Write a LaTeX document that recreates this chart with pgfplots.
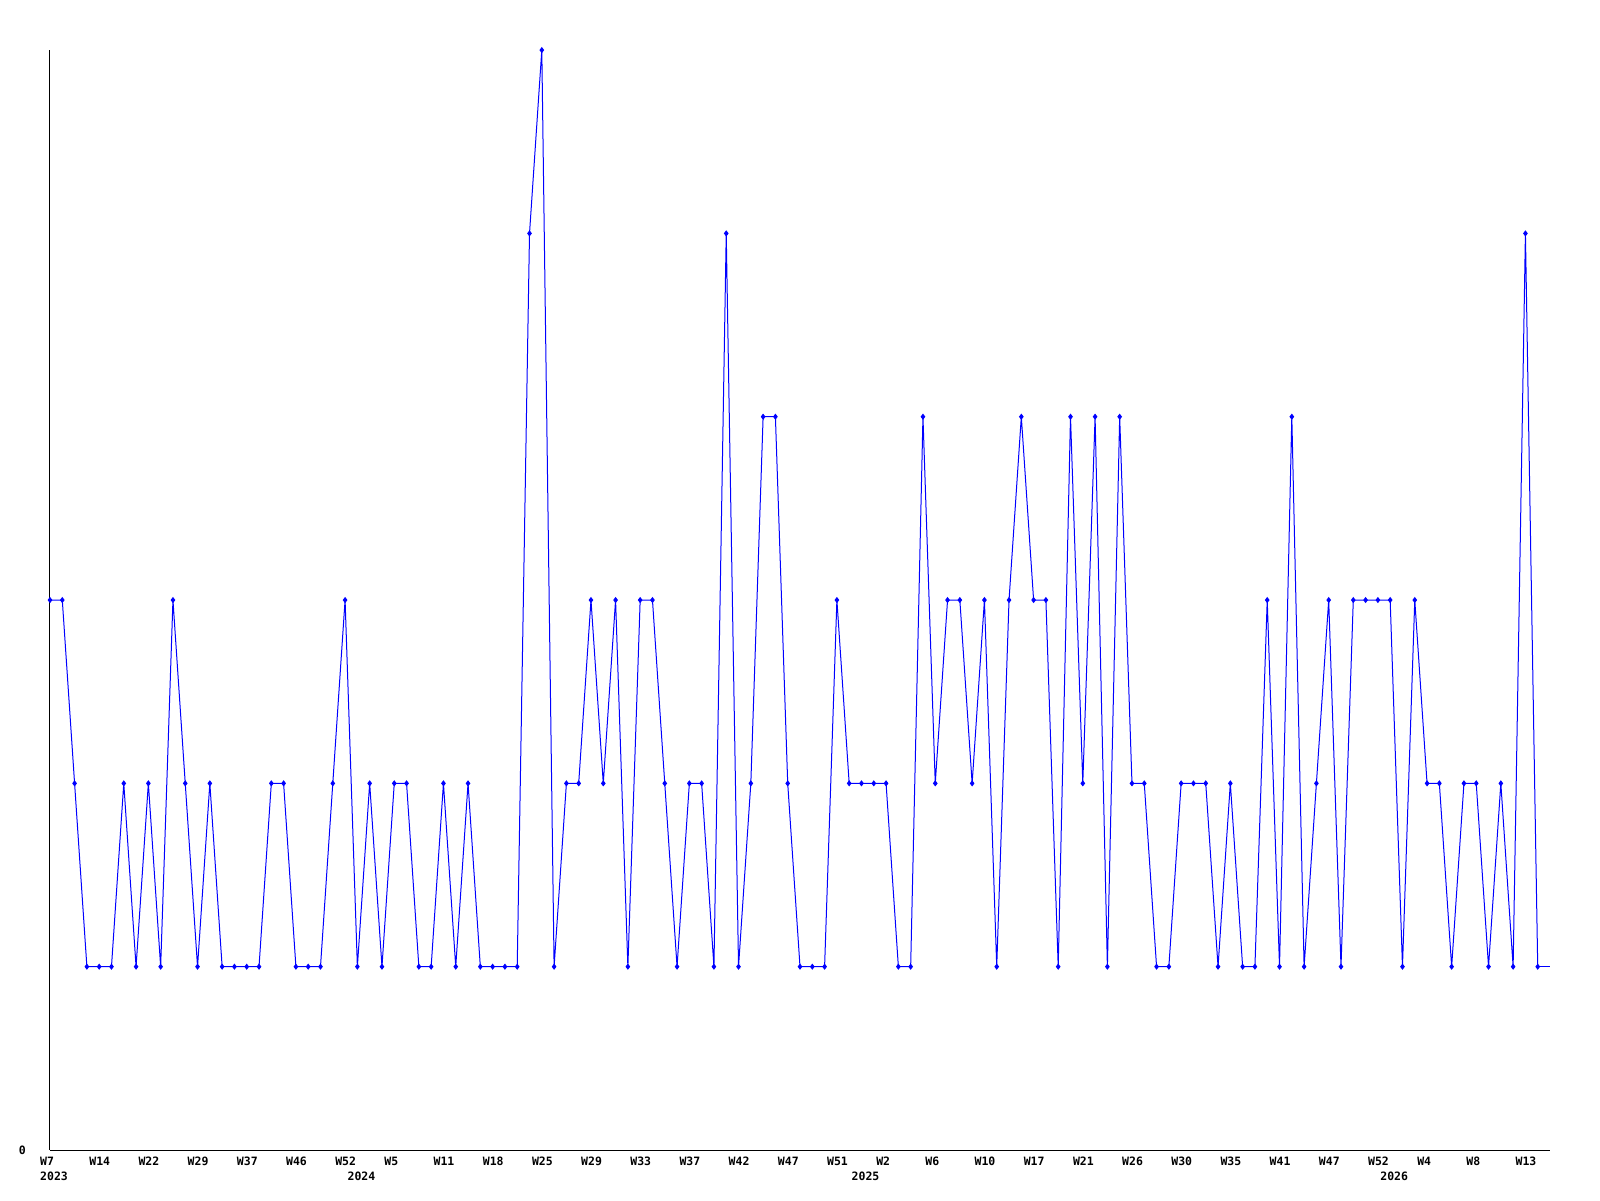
\documentclass[border=0pt]{standalone}
\usepackage{pgfplots}
\pgfplotsset{compat=1.18}
\usepackage{fontspec}
\setmonofont{DejaVu Sans Mono}
\newcommand{\lblfont}{\ttfamily\bfseries\fontsize{11.5}{12}\selectfont}
\definecolor{lineblue}{RGB}{0,0,255}
\begin{document}
\begin{tikzpicture}
\path (0,0) rectangle (1600pt,1200pt);
\begin{axis}[
  at={(50pt,50pt)}, anchor=south west,
  width=1500pt, height=1100pt, scale only axis,
  xmin=0, xmax=122, ymin=0, ymax=6,
  axis x line=bottom, axis y line=left,
  axis line style={black, line width=1pt, -},
  xtick={0,4,...,120},
  xticklabels={W7,W14,W22,W29,W37,W46,W52,W5,W11,W18,W25,W29,W33,W37,W42,W47,W51,W2,W6,W10,W17,W21,W26,W30,W35,W41,W47,W52,W4,W8,W13},
  extra x ticks={0,25,66,109},
  extra x tick labels={2023,2024,2025,2026},
  extra x tick style={xticklabel style={yshift=-15.5pt}},
  xticklabel style={font=\lblfont, anchor=north west, inner sep=0pt, xshift=-10pt, yshift=-6.5pt},
  ytick={0}, yticklabels={0},
  yticklabel style={font=\lblfont, anchor=east, inner sep=0pt, xshift=-24pt},
  major tick length=0pt,
  tick style={draw=none},
  clip=false,
]
\addplot[lineblue, line width=1pt, mark=diamond*, mark size=2.3pt, mark options={solid, fill=lineblue}]
coordinates {
(0,3)(1,3)(2,2)(3,1)(4,1)(5,1)(6,2)(7,1)(8,2)(9,1)
(10,3)(11,2)(12,1)(13,2)(14,1)(15,1)(16,1)(17,1)(18,2)(19,2)
(20,1)(21,1)(22,1)(23,2)(24,3)(25,1)(26,2)(27,1)(28,2)(29,2)
(30,1)(31,1)(32,2)(33,1)(34,2)(35,1)(36,1)(37,1)(38,1)(39,5)
(40,6)(41,1)(42,2)(43,2)(44,3)(45,2)(46,3)(47,1)(48,3)(49,3)
(50,2)(51,1)(52,2)(53,2)(54,1)(55,5)(56,1)(57,2)(58,4)(59,4)
(60,2)(61,1)(62,1)(63,1)(64,3)(65,2)(66,2)(67,2)(68,2)(69,1)
(70,1)(71,4)(72,2)(73,3)(74,3)(75,2)(76,3)(77,1)(78,3)(79,4)
(80,3)(81,3)(82,1)(83,4)(84,2)(85,4)(86,1)(87,4)(88,2)(89,2)
(90,1)(91,1)(92,2)(93,2)(94,2)(95,1)(96,2)(97,1)(98,1)(99,3)
(100,1)(101,4)(102,1)(103,2)(104,3)(105,1)(106,3)(107,3)(108,3)(109,3)
(110,1)(111,3)(112,2)(113,2)(114,1)(115,2)(116,2)(117,1)(118,2)(119,1)
(120,5)(121,1)
};
\addplot[lineblue, line width=1pt, no markers] coordinates {(121,1)(122,1)};
\end{axis}
\end{tikzpicture}
\end{document}
